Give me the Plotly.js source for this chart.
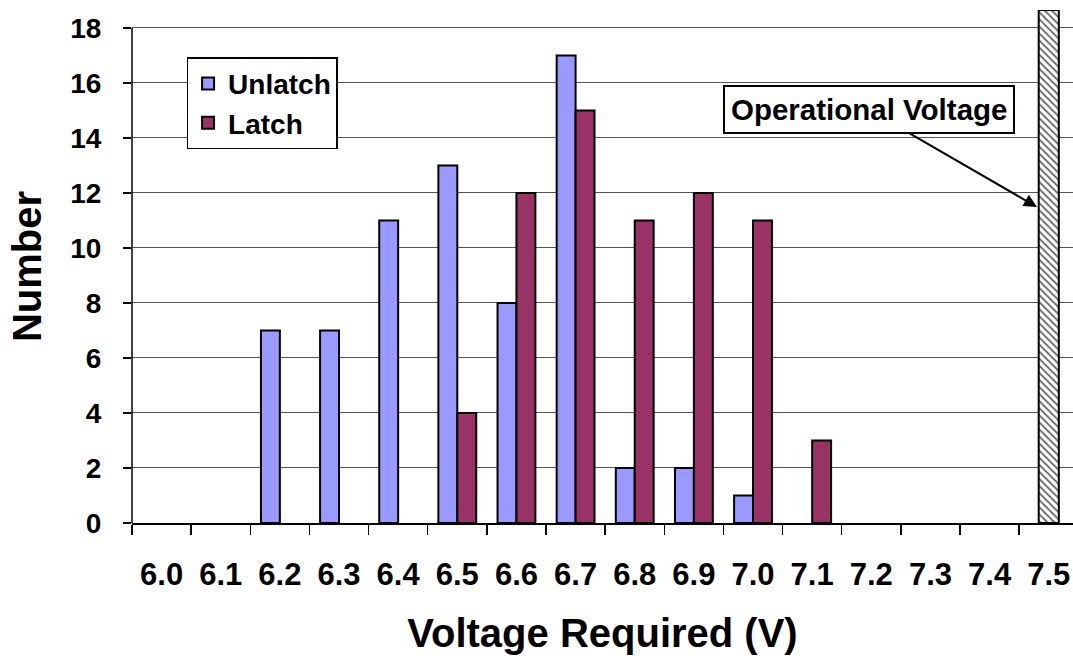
<!DOCTYPE html>
<html>
<head>
<meta charset="utf-8">
<script src="https://cdn.plot.ly/plotly-3.0.1.min.js"></script>
<style>
  html, body { margin: 0; padding: 0; background: #fff; }
  #chart { width: 1073px; height: 662px; }
</style>
</head>
<body>
<div id="chart"></div>
<script>
// Voltage bins (V)
const voltages = ['6.0', '6.1', '6.2', '6.3', '6.4', '6.5', '6.6', '6.7',
                  '6.8', '6.9', '7.0', '7.1', '7.2', '7.3', '7.4', '7.5'];

// Counts per bin
const unlatchCounts = [0, 0, 7, 7, 11, 13, 8, 17, 2, 2, 1, 0, 0, 0, 0, 0];
const latchCounts   = [0, 0, 0, 0, 0, 4, 12, 15, 11, 12, 11, 3, 0, 0, 0, 0];

// Operational voltage marker bar
const operationalVoltage = ['7.5'];
const operationalLevel = [18.65];

const FONT = 'Arial, "Liberation Sans", Helvetica, sans-serif';

// empty bins are left blank rather than drawn as flat outlines
const blankZero = arr => arr.map(v => (v === 0 ? null : v));

const traces = [
  {
    type: 'bar', name: 'Unlatch', x: voltages, y: blankZero(unlatchCounts),
    offset: -0.32, width: 0.32,
    marker: { color: '#9999FF', line: { color: '#000', width: 2 } }
  },
  {
    type: 'bar', name: 'Latch', x: voltages, y: blankZero(latchCounts),
    offset: 0, width: 0.32,
    marker: { color: '#993366', line: { color: '#000', width: 2 } }
  },
  {
    type: 'bar', name: 'Operational Voltage', x: operationalVoltage, y: operationalLevel,
    offset: -0.17, width: 0.34, showlegend: false, hoverinfo: 'skip',
    marker: {
      color: '#fff',
      line: { color: '#000', width: 2 },
      pattern: { shape: '\\', fgcolor: '#666', bgcolor: '#fff', size: 5, solidity: 0.35 }
    }
  }
];

const layout = {
  width: 1073, height: 662,
  margin: { l: 132, r: 0, t: 10, b: 139 },
  paper_bgcolor: '#fff', plot_bgcolor: '#fff',
  barmode: 'overlay',
  font: { family: FONT, color: '#000' },
  showlegend: true,
  legend: {
    x: 0.058, y: 0.908, xanchor: 'left', yanchor: 'top',
    bgcolor: '#fff', bordercolor: '#000', borderwidth: 1.5,
    font: { family: FONT, size: 28, weight: 'bold', color: '#000' },
    tracegroupgap: 0
  },
  xaxis: {
    type: 'category',
    range: [-0.5, 15.41],
    tickson: 'boundaries',
    ticks: 'outside', ticklen: 10, tickwidth: 1.5, tickcolor: '#000',
    showline: true, linecolor: '#000', linewidth: 1.5,
    showgrid: false, zeroline: false,
    tickfont: { family: FONT, size: 31, weight: 'bold', color: '#000' },
    ticklabelstandoff: 23,
    title: { text: 'Voltage Required (V)', font: { family: FONT, size: 40, weight: 'bold', color: '#000' }, standoff: 28 }
  },
  yaxis: {
    range: [0, 18.65],
    tickvals: [0, 2, 4, 6, 8, 10, 12, 14, 16, 18],
    ticks: 'outside', ticklen: 8, tickwidth: 1.5, tickcolor: '#000',
    showline: false,
    showgrid: true, gridcolor: '#555', gridwidth: 1,
    zeroline: false,
    tickfont: { family: FONT, size: 28, weight: 'bold', color: '#000' },
    ticklabelstandoff: 16,
    title: { text: 'Number', font: { family: FONT, size: 40, weight: 'bold', color: '#000' }, standoff: 16 }
  },
  shapes: [
    // vertical axis line running up to the top tick
    { type: 'line', xref: 'paper', yref: 'y', x0: 0, x1: 0, y0: 0, y1: 18,
      line: { color: '#000', width: 1.5 } }
  ],
  annotations: [
    {
      xref: 'x', yref: 'y', x: 14.80, y: 11.49,
      ax: -168, ay: -97, axref: 'pixel', ayref: 'pixel',
      text: 'Operational Voltage',
      showarrow: true, arrowhead: 2, arrowsize: 1.3, arrowwidth: 2, arrowcolor: '#000',
      font: { family: FONT, size: 29.5, weight: 'bold', color: '#000' },
      bgcolor: '#fff', bordercolor: '#000', borderwidth: 2, borderpad: 6
    }
  ]
};

Plotly.newPlot('chart', traces, layout, { displayModeBar: false, staticPlot: true });
</script>
</body>
</html>
